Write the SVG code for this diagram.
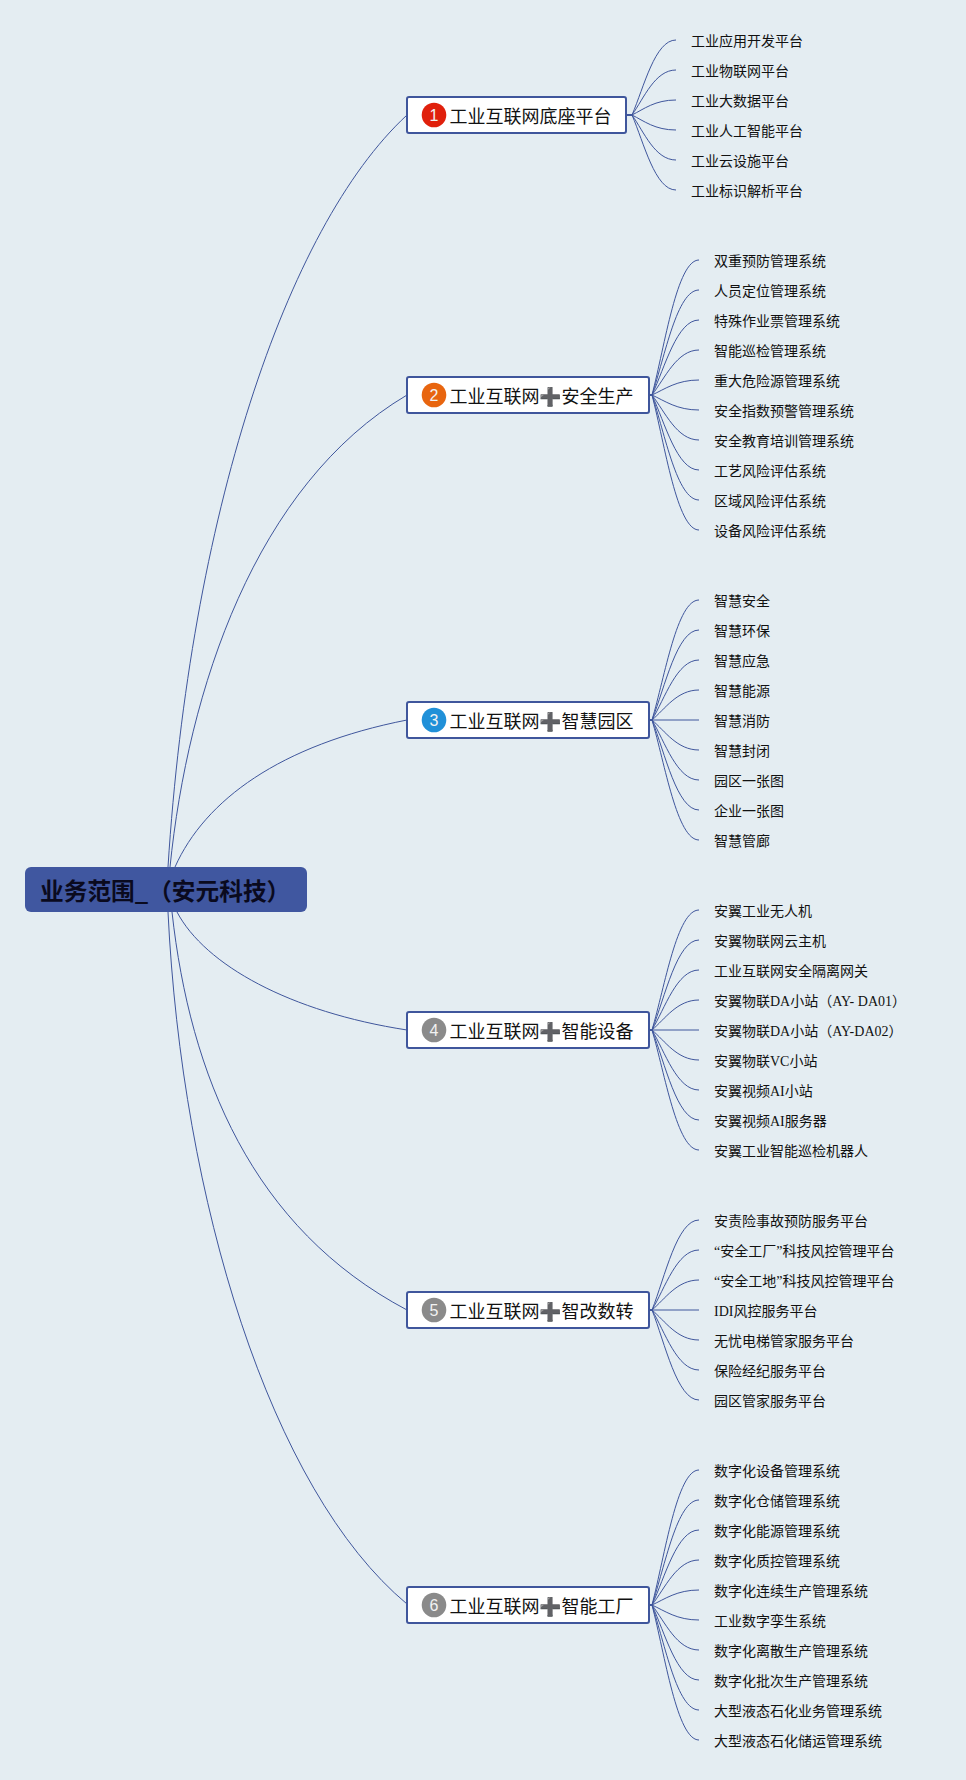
<svg xmlns="http://www.w3.org/2000/svg" width="966" height="1780" viewBox="0 0 966 1780">
<style>
.c{fill:none;stroke:#3f569c;stroke-width:1}
.s{fill:none;stroke:#3f569c;stroke-width:2}
.b{fill:#fff;stroke:#3f569c;stroke-width:2}
.t{font-family:"Noto Sans CJK SC","Noto Sans",sans-serif;font-size:18px;fill:#111}
.p{fill:#555}
.l{font-family:"Liberation Serif","Noto Sans CJK SC",serif;font-size:14px;fill:#111}
.n{font-family:"Liberation Sans",sans-serif;font-size:16px;fill:#f2f2f2;text-anchor:middle}
</style>
<rect width="966" height="1780" fill="#e4edf2"/>
<g id="connectors">
<path class="c" d="M168 867C190 520 285 228 407 115"/>
<path class="c" d="M170 867C188 690 255 485 407 395"/>
<path class="c" d="M175 867C205 800 280 745 407 720"/>
<path class="c" d="M177 912C205 965 290 1012 407 1030"/>
<path class="c" d="M172 912C190 1075 252 1228 407 1310"/>
<path class="c" d="M168 912C182 1200 270 1490 407 1604"/>
<path class="s" d="M626 115H632M649 395H652M649 720H652M649 1030H652M649 1310H652M649 1605H652"/>
<path class="c" d="M632 115C644 87 655 40 676 40M632 115C644 98 655 70 676 70M632 115C644 109 655 100 676 100M632 115C644 121 655 130 676 130M632 115C644 132 655 160 676 160M632 115C644 143 655 190 676 190"/>
<path class="c" d="M652 395C665 345 677 260 699 260M652 395C665 356 677 290 699 290M652 395C665 367 677 320 699 320M652 395C665 378 677 350 699 350M652 395C665 389 677 380 699 380M652 395C665 401 677 410 699 410M652 395C665 412 677 440 699 440M652 395C665 423 677 470 699 470M652 395C665 434 677 500 699 500M652 395C665 445 677 530 699 530"/>
<path class="c" d="M652 720C665 676 677 600 699 600M652 720C665 687 677 630 699 630M652 720C665 698 677 660 699 660M652 720C665 709 677 690 699 690M652 720H699M652 720C665 731 677 750 699 750M652 720C665 742 677 780 699 780M652 720C665 753 677 810 699 810M652 720C665 764 677 840 699 840"/>
<path class="c" d="M652 1030C665 986 677 910 699 910M652 1030C665 997 677 940 699 940M652 1030C665 1008 677 970 699 970M652 1030C665 1019 677 1000 699 1000M652 1030H699M652 1030C665 1041 677 1060 699 1060M652 1030C665 1052 677 1090 699 1090M652 1030C665 1063 677 1120 699 1120M652 1030C665 1074 677 1150 699 1150"/>
<path class="c" d="M652 1310C665 1277 677 1220 699 1220M652 1310C665 1288 677 1250 699 1250M652 1310C665 1299 677 1280 699 1280M652 1310H699M652 1310C665 1321 677 1340 699 1340M652 1310C665 1332 677 1370 699 1370M652 1310C665 1343 677 1400 699 1400"/>
<path class="c" d="M652 1605C665 1555 677 1470 699 1470M652 1605C665 1566 677 1500 699 1500M652 1605C665 1577 677 1530 699 1530M652 1605C665 1588 677 1560 699 1560M652 1605C665 1599 677 1590 699 1590M652 1605C665 1611 677 1620 699 1620M652 1605C665 1622 677 1650 699 1650M652 1605C665 1633 677 1680 699 1680M652 1605C665 1644 677 1710 699 1710M652 1605C665 1655 677 1740 699 1740"/>
</g>
<g id="root"><rect x="25" y="867" width="282" height="45" rx="6" fill="#4057a0"/><text x="40" y="900" font-family="Noto Sans CJK SC,sans-serif" font-size="23.7" font-weight="700" fill="#0a0a1e">业务范围_（安元科技）</text></g>
<g id="n1"><rect class="b" x="407" y="97" width="219" height="36" rx="2"/><circle cx="434" cy="115" r="12.3" fill="#e0200c"/><text class="n" x="434" y="121">1</text><text class="t" x="449.5" y="122.5">工业互联网底座平台</text></g>
<g id="n2"><rect class="b" x="407" y="377" width="242" height="36" rx="2"/><circle cx="434" cy="395" r="12.3" fill="#e8650f"/><text class="n" x="434" y="401">2</text><text class="t" x="449.5" y="402.5">工业互联网<tspan class="p" x="539">➕</tspan><tspan x="561.5">安全生产</tspan></text></g>
<g id="n3"><rect class="b" x="407" y="702" width="242" height="36" rx="2"/><circle cx="434" cy="720" r="12.3" fill="#2090d8"/><text class="n" x="434" y="726">3</text><text class="t" x="449.5" y="727.5">工业互联网<tspan class="p" x="539">➕</tspan><tspan x="561.5">智慧园区</tspan></text></g>
<g id="n4"><rect class="b" x="407" y="1012" width="242" height="36" rx="2"/><circle cx="434" cy="1030" r="12.3" fill="#8a8a8a"/><text class="n" x="434" y="1036">4</text><text class="t" x="449.5" y="1037.5">工业互联网<tspan class="p" x="539">➕</tspan><tspan x="561.5">智能设备</tspan></text></g>
<g id="n5"><rect class="b" x="407" y="1292" width="242" height="36" rx="2"/><circle cx="434" cy="1310" r="12.3" fill="#8a8a8a"/><text class="n" x="434" y="1316">5</text><text class="t" x="449.5" y="1317.5">工业互联网<tspan class="p" x="539">➕</tspan><tspan x="561.5">智改数转</tspan></text></g>
<g id="n6"><rect class="b" x="407" y="1587" width="242" height="36" rx="2"/><circle cx="434" cy="1605" r="12.3" fill="#8a8a8a"/><text class="n" x="434" y="1611">6</text><text class="t" x="449.5" y="1612.5">工业互联网<tspan class="p" x="539">➕</tspan><tspan x="561.5">智能工厂</tspan></text></g>
<g id="leaves1">
<text class="l" x="691" y="46">工业应用开发平台</text><text class="l" x="691" y="76">工业物联网平台</text><text class="l" x="691" y="106">工业大数据平台</text><text class="l" x="691" y="136">工业人工智能平台</text><text class="l" x="691" y="166">工业云设施平台</text><text class="l" x="691" y="196">工业标识解析平台</text>
</g>
<g id="leaves2">
<text class="l" x="714" y="266">双重预防管理系统</text><text class="l" x="714" y="296">人员定位管理系统</text><text class="l" x="714" y="326">特殊作业票管理系统</text><text class="l" x="714" y="356">智能巡检管理系统</text><text class="l" x="714" y="386">重大危险源管理系统</text><text class="l" x="714" y="416">安全指数预警管理系统</text><text class="l" x="714" y="446">安全教育培训管理系统</text><text class="l" x="714" y="476">工艺风险评估系统</text><text class="l" x="714" y="506">区域风险评估系统</text><text class="l" x="714" y="536">设备风险评估系统</text>
</g>
<g id="leaves3">
<text class="l" x="714" y="606">智慧安全</text><text class="l" x="714" y="636">智慧环保</text><text class="l" x="714" y="666">智慧应急</text><text class="l" x="714" y="696">智慧能源</text><text class="l" x="714" y="726">智慧消防</text><text class="l" x="714" y="756">智慧封闭</text><text class="l" x="714" y="786">园区一张图</text><text class="l" x="714" y="816">企业一张图</text><text class="l" x="714" y="846">智慧管廊</text>
</g>
<g id="leaves4">
<text class="l" x="714" y="916">安翼工业无人机</text><text class="l" x="714" y="946">安翼物联网云主机</text><text class="l" x="714" y="976">工业互联网安全隔离网关</text><text class="l" x="714" y="1006">安翼物联DA小站（AY- DA01）</text><text class="l" x="714" y="1036">安翼物联DA小站（AY-DA02）</text><text class="l" x="714" y="1066">安翼物联VC小站</text><text class="l" x="714" y="1096">安翼视频AI小站</text><text class="l" x="714" y="1126">安翼视频AI服务器</text><text class="l" x="714" y="1156">安翼工业智能巡检机器人</text>
</g>
<g id="leaves5">
<text class="l" x="714" y="1226">安责险事故预防服务平台</text><text class="l" x="714" y="1256">“安全工厂”科技风控管理平台</text><text class="l" x="714" y="1286">“安全工地”科技风控管理平台</text><text class="l" x="714" y="1316">IDI风控服务平台</text><text class="l" x="714" y="1346">无忧电梯管家服务平台</text><text class="l" x="714" y="1376">保险经纪服务平台</text><text class="l" x="714" y="1406">园区管家服务平台</text>
</g>
<g id="leaves6">
<text class="l" x="714" y="1476">数字化设备管理系统</text><text class="l" x="714" y="1506">数字化仓储管理系统</text><text class="l" x="714" y="1536">数字化能源管理系统</text><text class="l" x="714" y="1566">数字化质控管理系统</text><text class="l" x="714" y="1596">数字化连续生产管理系统</text><text class="l" x="714" y="1626">工业数字孪生系统</text><text class="l" x="714" y="1656">数字化离散生产管理系统</text><text class="l" x="714" y="1686">数字化批次生产管理系统</text><text class="l" x="714" y="1716">大型液态石化业务管理系统</text><text class="l" x="714" y="1746">大型液态石化储运管理系统</text>
</g>
</svg>
